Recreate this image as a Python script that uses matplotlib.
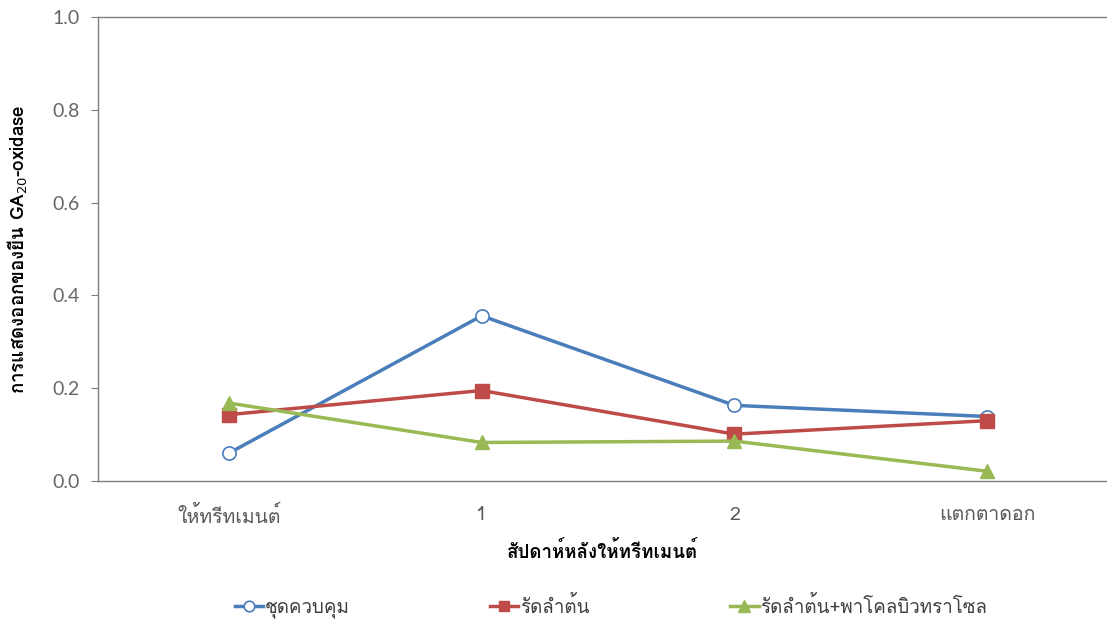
import matplotlib
matplotlib.use("Agg")
import matplotlib.pyplot as plt
from matplotlib import font_manager
from matplotlib.ft2font import FT2Font


def หาฟอนต์ไทย():
    # look for an installed font that carries Thai glyphs
    for f in font_manager.fontManager.ttflist:
        try:
            ft = FT2Font(f.fname)
            if ord("ก") in ft.get_charmap():
                return f.name
        except Exception:
            pass
    return "DejaVu Sans"


thai = หาฟอนต์ไทย()
plt.rcParams["font.family"] = [thai, "DejaVu Sans"]

categories = ["ให้ทรีทเมนต์", "1", "2", "แตกตาดอก"]
control = [0.060, 0.356, 0.163, 0.139]
girdling = [0.143, 0.195, 0.101, 0.130]
girdling_pbz = [0.168, 0.083, 0.086, 0.021]
series_names = ["ชุดควบคุม", "รัดลำต้น", "รัดลำต้น+พาโคลบิวทราโซล"]

blue = "#4A7EBB"
red = "#BE4B48"
green = "#98B954"
grey = "#7F7F7F"

fig = plt.figure(figsize=(11.07, 6.21), dpi=100)
ax = fig.add_axes([98 / 1107, 1 - 481 / 621, 1 - 98 / 1107, (481 - 17) / 621])

x = list(range(len(categories)))
ax.plot(x, control, color=blue, lw=2.5, marker="o", ms=9.5,
        mfc="white", mec=blue, mew=1.2, label=series_names[0], zorder=3)
ax.plot(x, girdling, color=red, lw=2.5, marker="s", ms=9.5,
        mfc=red, mec=red, label=series_names[1], zorder=3)
ax.plot(x, girdling_pbz, color=green, lw=2.5, marker="^", ms=10,
        mfc=green, mec=green, label=series_names[2], zorder=3)

ax.set_xlim(-0.518, 3.474)
ax.set_ylim(0, 1.0)
ax.set_yticks([0, 0.2, 0.4, 0.6, 0.8, 1.0])
ax.set_yticklabels(["0.0", "0.2", "0.4", "0.6", "0.8", "1.0"],
                   family=["Lato", thai])
ax.set_xticks(x)
ax.set_xticklabels(categories)

for s in ["left", "bottom", "top"]:
    ax.spines[s].set_color(grey)
    ax.spines[s].set_linewidth(1.0)
ax.spines["right"].set_visible(False)

ax.tick_params(axis="y", colors=grey, labelcolor="#666666", labelsize=14,
               length=5, direction="out", pad=8)
ax.tick_params(axis="x", length=0, labelcolor="#595959", labelsize=14, pad=18)

ax.set_xlabel("สัปดาห์หลังให้ทรีทเมนต์", fontsize=13.5, fontweight="bold", labelpad=10)
ax.set_ylabel("การแสดงออกของยีน GA$_{20}$-oxidase", fontsize=13.5,
              fontweight="bold", labelpad=16)

leg = fig.legend(loc="center", bbox_to_anchor=(0.552, 1 - 607 / 621), ncol=3,
                 frameon=False, fontsize=13.5, columnspacing=7.5, handlelength=1.5,
                 handletextpad=0.1, markerscale=0.8)
for t in leg.get_texts():
    t.set_color("#404040")

fig.savefig("out.png", dpi=100)
